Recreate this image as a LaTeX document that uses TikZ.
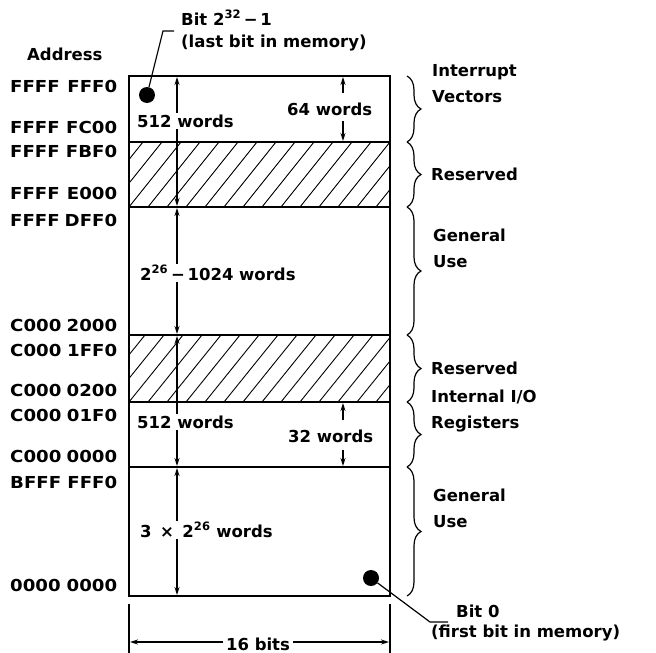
\documentclass[tikz,border=0pt]{standalone}
\usepackage{fontspec}
\setmainfont{DejaVu Sans}
\newfontfamily\addrfont{DejaVu Sans}[FakeStretch=1.1]
\usetikzlibrary{arrows.meta,decorations.pathreplacing}
\newcommand\adr[2]{\makebox[107pt]{\addrfont\bfseries #1\hfill#2}}
\tikzset{
  box/.style={line width=2pt},
  hatchline/.style={line width=0.9pt},
  dimarrow/.style={line width=1.2pt,{Stealth[length=8pt,width=5pt]}-{Stealth[length=8pt,width=5pt]}},
  onearrow/.style={line width=1.2pt,-{Stealth[length=8pt,width=5pt]}},
  txt/.style={inner sep=0pt, anchor=base west},
  wtxt/.style={fill=white, inner sep=1.5pt, anchor=base west},
  region/.style={inner sep=0pt, anchor=base west, align=left},
  bracestyle/.style={line width=1.2pt, decorate, decoration={brace, amplitude=14pt}},
  dotmark/.style={circle, fill=black, inner sep=0pt, minimum size=16pt},
  leader/.style={line width=1.2pt},
  tick/.style={line width=1.2pt},
}
\begin{document}
\begin{tikzpicture}[x=1pt,y=-1pt,font=\bfseries\fontsize{16.5}{26}\selectfont]
\useasboundingbox (0,0) rectangle (656,653);

% hatched regions
\begin{scope}
  \clip (129,142) rectangle (390,207);
  \foreach \i in {-4,...,14} \draw[hatchline] (129+\i*19,207) -- ++(52,-65);
\end{scope}
\begin{scope}
  \clip (129,335) rectangle (390,402);
  \foreach \i in {-4,...,14} \draw[hatchline] (129+\i*19,402) -- ++(54,-67);
\end{scope}

% memory box
\draw[box] (129,76) rectangle (390,596);
\foreach \y in {142,207,335,402,467} \draw[box] (129,\y) -- (390,\y);

% header
\node[txt] (haddr) at (27,60) {Address};

% addresses
\node[txt] (a1) at (10,92)  {\adr{FFFF}{FFF0}};
\node[txt] (a2) at (10,133) {\adr{FFFF}{FC00}};
\node[txt] (a3) at (10,157) {\adr{FFFF}{FBF0}};
\node[txt] (a4) at (10,199) {\adr{FFFF}{E000}};
\node[txt] (a5) at (10,226) {\adr{FFFF}{DFF0}};
\node[txt] (a6) at (10,331) {\adr{C000}{2000}};
\node[txt] (a7) at (10,356) {\adr{C000}{1FF0}};
\node[txt] (a8) at (10,396) {\adr{C000}{0200}};
\node[txt] (a9) at (10,421) {\adr{C000}{01F0}};
\node[txt] (a10) at (10,462) {\adr{C000}{0000}};
\node[txt] (a11) at (10,488) {\adr{BFFF}{FFF0}};
\node[txt] (a12) at (10,591) {\adr{0000}{0000}};

% dimension arrows
\draw[dimarrow] (177,77) -- (177,206);
\draw[dimarrow] (177,208) -- (177,334);
\draw[dimarrow] (177,336) -- (177,466);
\draw[dimarrow] (177,468) -- (177,595);
\node[wtxt] (w1) at (135.5,127) {512 words};
\node[wtxt] (w2) at (138.5,280) {2\textsuperscript{26}\,−\,1024 words};
\node[wtxt] (w3) at (135.5,428) {512 words};
\node[wtxt] (w4) at (138.5,537) {3 \,×\, 2\textsuperscript{26} words};

% short dimensions
\coordinate (s1a) at (343,93);  \coordinate (s1b) at (343,77);
\coordinate (s2a) at (343,121); \coordinate (s2b) at (343,141);
\draw[onearrow] (s1a) -- (s1b);
\draw[onearrow] (s2a) -- (s2b);
\node[txt] (w64) at (287,115) {64 words};
\coordinate (s3a) at (343,420); \coordinate (s3b) at (343,403);
\coordinate (s4a) at (343,450); \coordinate (s4b) at (343,466);
\draw[onearrow] (s3a) -- (s3b);
\draw[onearrow] (s4a) -- (s4b);
\node[txt] (w32) at (288,442) {32 words};

% bit markers
\node[dotmark] (dotT) at (147,95) {};
\coordinate (lT1) at (163,31);
\coordinate (lT2) at (174,31);
\draw[leader] (dotT) -- (lT1) -- (lT2);
\node[txt] (bitT) at (181,25) {Bit 2\textsuperscript{32}\,−\,1};
\node[txt] (bitT2) at (181,47) {(last bit in memory)};

\node[dotmark] (dotB) at (371,578) {};
\coordinate (lB1) at (430,622);
\coordinate (lB2) at (448,622);
\draw[leader] (dotB) -- (lB1) -- (lB2);
\node[txt] (bitB) at (456,617) {Bit 0};
\node[txt] (bitB2) at (431,637) {(first bit in memory)};

% braces
\draw[bracestyle] (407,76) -- (407,142);
\draw[bracestyle] (407,142) -- (407,207);
\draw[bracestyle] (407,207) -- (407,335);
\draw[bracestyle] (407,335) -- (407,402);
\draw[bracestyle] (407,402) -- (407,467);
\draw[bracestyle] (407,467) -- (407,596);

% region labels
\node[region] (r1) at (432,102) {Interrupt\\Vectors};
\node[region] (r2) at (431,180) {Reserved};
\node[region] (r3) at (433,267) {General\\Use};
\node[region] (r4) at (431,374) {Reserved};
\node[region] (r5) at (431,428) {Internal I/O\\Registers};
\node[region] (r6) at (433,527) {General\\Use};

% width
\coordinate (t1a) at (129,604); \coordinate (t1b) at (129,653);
\coordinate (t2a) at (390,604); \coordinate (t2b) at (390,653);
\draw[tick] (t1a) -- (t1b);
\draw[tick] (t2a) -- (t2b);
\draw[dimarrow] (130,642) -- (389,642);
\node[fill=white, inner xsep=3pt, inner ysep=1pt, anchor=base] (bits) at (258,650) {16 bits};
\end{tikzpicture}
\end{document}
